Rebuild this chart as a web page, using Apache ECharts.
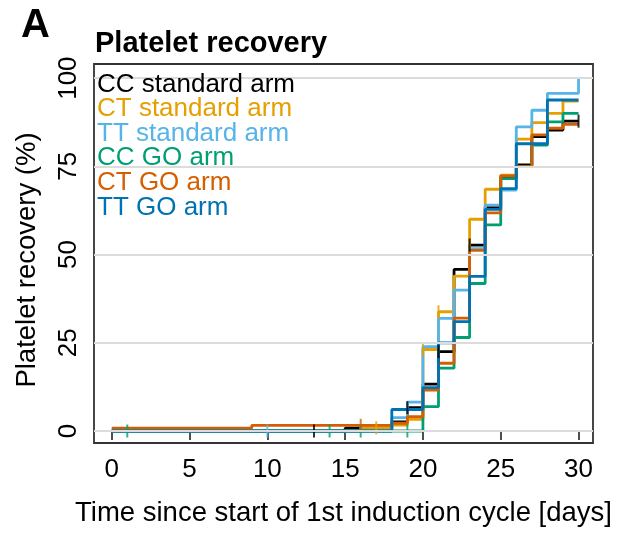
<!DOCTYPE html>
<html>
<head>
<meta charset="utf-8">
<script src="https://cdn.jsdelivr.net/npm/echarts@6/dist/echarts.min.js"></script>
<style>
html,body{margin:0;padding:0;background:#fff;}
#chart{width:617px;height:533px;}
</style>
</head>
<body>
<div id="chart"></div>
<script>
// ---- data ----
const groups = ['CC standard arm', 'CT standard arm', 'TT standard arm', 'CC GO arm', 'CT GO arm', 'TT GO arm'];
const colors = ['#000000', '#E69F00', '#56B4E9', '#009E73', '#D55E00', '#0072B2'];

const ccStdDays = [0, 15, 18, 19, 20, 21, 22, 23, 24, 25, 26, 27, 28, 29, 30];
const ccStdVals = [0, 0.8, 2.6, 6.6, 13.3, 22.5, 45.8, 52.7, 63.3, 72, 75.4, 83.4, 85.3, 87.8, 87.8];
const ccStdCens = [13, 19, 21, 23, 30];

const ctStdDays = [0, 16, 18, 19, 20, 21, 22, 23, 24, 25, 26, 27, 28, 29, 30];
const ctStdVals = [0, 0.9, 1.7, 3.3, 23.1, 33.8, 43.9, 60, 68.5, 72.5, 82.7, 87.4, 90, 93.5, 93.5];
const ctStdCens = [17, 20, 21];

const ttStdDays = [0, 18, 19, 20, 21, 22, 23, 24, 25, 26, 27, 28, 30];
const ttStdVals = [0, 3.8, 8.2, 23.9, 31.9, 39.9, 51.7, 64, 68.3, 86.2, 90.9, 95.7, 100];
const ttStdCens = [10];

const ccGoDays = [0, 20, 21, 22, 23, 24, 25, 26, 27, 28, 29, 30];
const ccGoVals = [0, 6.9, 17.8, 26.5, 41.8, 58.4, 71.5, 75, 81, 87.6, 90, 90];
const ccGoCens = [1, 14, 16, 19];

const ctGoDays = [0, 9, 18, 19, 20, 21, 22, 23, 24, 25, 26, 27, 28, 29, 30];
const ctGoVals = [0.8, 1.6, 2.2, 4.1, 11.6, 19.2, 32, 51.2, 61.8, 72.3, 74.9, 83.9, 85.8, 86.9, 86.9];
const ctGoCens = [16];

const ttGoDays = [0, 18, 20, 21, 22, 23, 24, 25, 26, 28, 30];
const ttGoVals = [0, 6.1, 12.3, 25, 31, 43.8, 62.8, 68.7, 81.4, 93.8, 93.8];
const ttGoCens = [];

const xTicks = [0, 5, 10, 15, 20, 25, 30];
const yTicks = [0, 25, 50, 75, 100];

const titleText = 'Platelet recovery';
const panelText = 'A';
const xTitle = 'Time since start of 1st induction cycle [days]';
const yTitle = 'Platelet recovery (%)';

// ---- build ----
const curves = [
  [ccStdDays, ccStdVals, ccStdCens],
  [ctStdDays, ctStdVals, ctStdCens],
  [ttStdDays, ttStdVals, ttStdCens],
  [ccGoDays, ccGoVals, ccGoCens],
  [ctGoDays, ctGoVals, ctGoCens],
  [ttGoDays, ttGoVals, ttGoCens]
];

function valueAt(days, vals, d) {
  let v = vals[0];
  for (let i = 0; i < days.length; i++) { if (days[i] <= d) v = vals[i]; }
  return v;
}

const FONT = '"Liberation Sans", Arial, Helvetica, sans-serif';

const series = [{
  type: 'line', data: [[-50, -50]], symbol: 'none', silent: true, z: 1,
  lineStyle: { opacity: 0 },
  markLine: {
    silent: true, symbol: ['none', 'none'], label: { show: false },
    lineStyle: { color: '#dcdcdc', width: 2.2, type: 'solid' },
    data: yTicks.map(v => ({ yAxis: v }))
  }
}];

curves.forEach((c, i) => {
  const [days, vals, cens] = c;
  series.push({
    name: groups[i], type: 'line', step: 'end', symbol: 'none', z: 3,
    lineStyle: { color: colors[i], width: 2.8 }, itemStyle: { color: colors[i] },
    data: days.map((d, k) => [d, vals[k]])
  });
  series.push({
    name: groups[i] + ' censored', type: 'scatter', symbol: 'rect', symbolSize: [2, 13], z: 3,
    itemStyle: { color: colors[i] },
    data: cens.map(d => [d, valueAt(days, vals, d)])
  });
});

const graphic = [
  { type: 'text', x: 21, y: 26, style: { text: panelText, font: 'bold 40px ' + FONT, fill: '#000', textAlign: 'left', textVerticalAlign: 'middle', align: 'left', verticalAlign: 'middle' } },
  { type: 'text', x: 95, y: 44, style: { text: titleText, font: 'bold 29px ' + FONT, fill: '#000', textAlign: 'left', textVerticalAlign: 'middle', align: 'left', verticalAlign: 'middle' } },
  { type: 'text', x: 27, y: 260, rotation: Math.PI / 2, style: { text: yTitle, font: '27.5px ' + FONT, fill: '#000', textAlign: 'center', textVerticalAlign: 'middle', align: 'center', verticalAlign: 'middle' } }
];
groups.forEach((g, i) => {
  graphic.push({ type: 'text', x: 97, y: 84.5 + i * 24.6, z: 10,
    style: { text: g, font: '26px ' + FONT, fill: colors[i], textAlign: 'left', textVerticalAlign: 'middle', align: 'left', verticalAlign: 'middle' } });
});

const chart = echarts.init(document.getElementById('chart'), null, { renderer: 'canvas' });
chart.setOption({
  animation: false,
  backgroundColor: '#ffffff',
  grid: { left: 94, right: 24, top: 64, bottom: 90, show: true, borderColor: '#333', borderWidth: 1.8, backgroundColor: 'transparent' },
  xAxis: {
    type: 'value', min: -1.14, max: 30.93,
    name: xTitle, nameLocation: 'middle', nameGap: 56,
    nameTextStyle: { fontSize: 27.5, fontFamily: FONT, color: '#000' },
    axisLine: { show: false },
    axisTick: { show: true, length: 9, customValues: xTicks, lineStyle: { color: '#222', width: 1.6 } },
    axisLabel: { customValues: xTicks, fontSize: 26, fontFamily: FONT, color: '#000', margin: 14 },
    splitLine: { show: false }
  },
  yAxis: {
    type: 'value', min: -3.4, max: 104,
    axisLine: { show: false },
    axisTick: { show: true, length: 9, customValues: yTicks, lineStyle: { color: '#222', width: 1.6 } },
    axisLabel: { customValues: yTicks, rotate: 90, fontSize: 26, fontFamily: FONT, color: '#000', margin: 12 },
    splitLine: { show: false }
  },
  graphic: graphic,
  series: series
});
</script>
</body>
</html>
